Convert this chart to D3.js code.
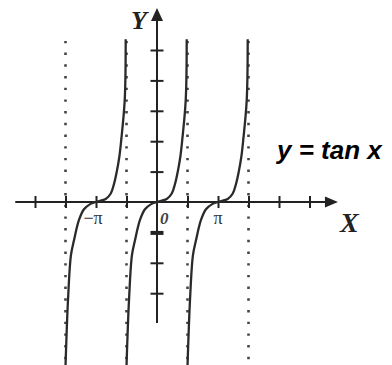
<!DOCTYPE html>
<html>
<head>
<meta charset="utf-8">
<script src="https://cdn.jsdelivr.net/npm/d3@7"></script>
<style>
  body { margin: 0; background: #fff; }
  svg { display: block; }
</style>
</head>
<body>
<svg width="392" height="365"></svg>
<script>
const PI = Math.PI;

// one branch of the curve (x in radians, y in units)
const branchX = [-1.57, -1.44, -1.29, -1.13, -0.88, -0.62, -0.3, 0, 0.25, 0.5, 0.76, 0.93, 1.07, 1.2, 1.3, 1.48, 1.53];
const branchY = [-5.4, -3.2, -1.75, -1.25, -0.6, -0.24, -0.07, 0, 0.05, 0.1, 0.28, 0.6, 1.0, 1.48, 2.04, 3.36, 5.35];
const branchCenters = [-PI, 0, PI];

const asymptotes = [-3 * PI / 2, -PI / 2, PI / 2, 3 * PI / 2];
const xTicks = [-4, -3, -2, -1, 1, 2, 3, 4, 5].map(k => k * PI / 2);
const yTicks = [-3, -2, -1, 1, 2, 3, 4, 5];
const xLabels = [{v: -PI, t: '\u2212\u03c0'}, {v: PI, t: '\u03c0'}];

const xRange = [-7.3, 9.32];
const yRange = [-3.98, 6.38];

const svg = d3.select('svg');

const x = d3.scaleLinear().domain([0, PI]).range([157, 218]);
const y = d3.scaleLinear().domain([0, 1]).range([202, 171.6]);

// dotted asymptotes
svg.selectAll('line.asym')
  .data(asymptotes)
  .enter().append('line')
    .attr('class', 'asym')
    .attr('x1', d => x(d)).attr('x2', d => x(d))
    .attr('y1', y(5.3)).attr('y2', 365)
    .attr('stroke', '#444')
    .attr('stroke-width', 2.6)
    .attr('stroke-dasharray', '2.4,9.3');

// axes lines
svg.append('line')
  .attr('x1', x(xRange[0])).attr('x2', x(xRange[1]) - 8)
  .attr('y1', y(0)).attr('y2', y(0))
  .attr('stroke', '#222').attr('stroke-width', 2);
svg.append('line')
  .attr('x1', x(0)).attr('x2', x(0))
  .attr('y1', y(yRange[0])).attr('y2', y(yRange[1]) + 8)
  .attr('stroke', '#222').attr('stroke-width', 2);

// arrow heads
const ax = x(xRange[1]), ay = y(0);
svg.append('path')
  .attr('d', `M${ax},${ay} L${ax - 13},${ay - 5.5} L${ax - 13},${ay + 5.5} Z`)
  .attr('fill', '#222');
const bx = x(0), by = y(yRange[1]);
svg.append('path')
  .attr('d', `M${bx},${by} L${bx - 6},${by + 13} L${bx + 6},${by + 13} Z`)
  .attr('fill', '#222');

// ticks
const xAxis = d3.axisBottom(x).tickValues(xTicks).tickSize(12).tickFormat('');
svg.append('g')
  .attr('transform', `translate(0,${y(0) - 6})`)
  .call(xAxis)
  .call(g => g.select('.domain').remove())
  .call(g => g.selectAll('.tick line').attr('stroke', '#222').attr('stroke-width', 2));

const yAxis = d3.axisRight(y).tickValues(yTicks).tickSize(13).tickFormat('');
svg.append('g')
  .attr('transform', `translate(${x(0) - 6.5},0)`)
  .call(yAxis)
  .call(g => g.select('.domain').remove())
  .call(g => g.selectAll('.tick line')
    .attr('stroke', '#222')
    .attr('stroke-width', d => d === -1 ? 4 : 2));

// branches
const line = d3.line()
  .x(d => x(d[0]))
  .y(d => y(d[1]))
  .curve(d3.curveCatmullRom.alpha(0.5));

svg.selectAll('path.branch')
  .data(branchCenters)
  .enter().append('path')
    .attr('class', 'branch')
    .attr('d', c => line(branchX.map((v, i) => [v + c, branchY[i]])))
    .attr('fill', 'none')
    .attr('stroke', '#2a2a2a')
    .attr('stroke-width', 2.3);

// labels
svg.selectAll('text.xl')
  .data(xLabels)
  .enter().append('text')
    .attr('class', 'xl')
    .attr('x', d => x(d.v) - (d.v < 0 ? 3 : 0))
    .attr('y', 224)
    .attr('text-anchor', 'middle')
    .attr('font-family', 'Liberation Serif, serif')
    .attr('font-size', 18)
    .attr('fill', '#333')
    .text(d => d.t);

svg.append('text')
  .attr('x', x(0) + 3).attr('y', 224)
  .attr('font-family', 'Liberation Serif, serif')
  .attr('font-size', 17)
  .attr('font-weight', 'bold')
  .attr('font-style', 'italic')
  .attr('fill', '#444')
  .text('0');

svg.append('text')
  .attr('x', 131).attr('y', 29)
  .attr('font-family', 'Liberation Serif, serif')
  .attr('font-size', 26)
  .attr('font-weight', 'bold')
  .attr('font-style', 'italic')
  .attr('fill', '#222')
  .text('Y');

svg.append('text')
  .attr('x', 340).attr('y', 232)
  .attr('font-family', 'Liberation Serif, serif')
  .attr('font-size', 28)
  .attr('font-weight', 'bold')
  .attr('font-style', 'italic')
  .attr('fill', '#222')
  .text('X');

svg.append('text')
  .attr('x', 277).attr('y', 159)
  .attr('font-family', 'Liberation Sans, Arial, sans-serif')
  .attr('font-size', 26)
  .attr('font-weight', 'bold')
  .attr('font-style', 'italic')
  .attr('fill', '#000')
  .text('y = tan x');
</script>
</body>
</html>
